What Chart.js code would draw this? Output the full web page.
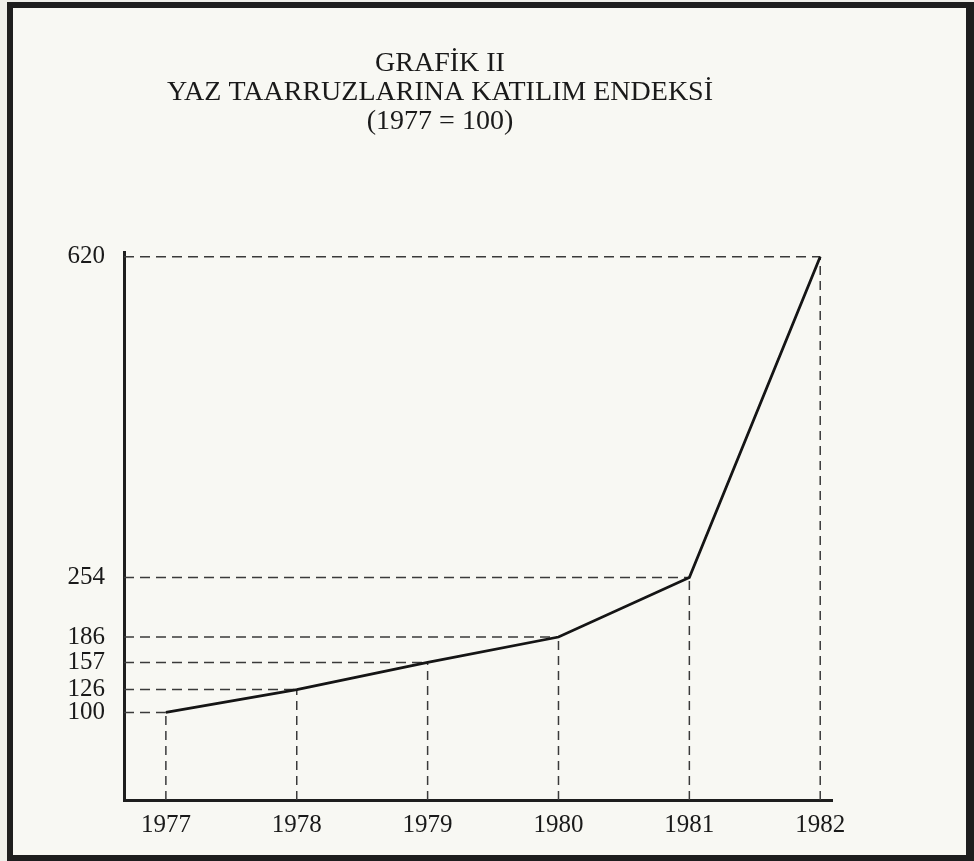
<!DOCTYPE html>
<html>
<head>
<meta charset="utf-8">
<script src="https://cdn.jsdelivr.net/npm/chart.js@4"></script>
<style>
  html, body { margin: 0; padding: 0; background: #efefea; }
  #frame {
    position: absolute; left: 7px; top: 2px; width: 953px; height: 847px;
    border: 6px solid #1e1e1e; border-right-width: 8px; background: #f8f8f3;
  }
  #wrap { position: absolute; left: 0; top: 0; width: 974px; height: 861px; }
</style>
</head>
<body>
<div id="frame"></div>
<div id="wrap"><canvas id="myChart" width="974" height="861"></canvas></div>
<script>
// data
const years = [1977, 1978, 1979, 1980, 1981, 1982];
const values = [100, 126, 157, 186, 254, 620];
const yTicks = [100, 126, 157, 186, 254, 620];
const titleLines = ['GRAFİK II', 'YAZ TAARRUZLARINA KATILIM ENDEKSİ', '(1977 = 100)'];

const xMin = 1976.68;
const xMax = 1982.09;
const serif = "'Liberation Serif', 'DejaVu Serif', serif";

// dashed guide lines: from y axis to point, and from point down to x axis
let guides = [];
years.forEach(function(yr, i){
  guides.push({
    data: [{x: xMin, y: values[i]}, {x: yr, y: values[i]}],
    borderColor: '#3a3a3a', borderWidth: 1.5, borderDash: [10, 6],
    pointRadius: 0, fill: false
  });
  guides.push({
    data: [{x: yr, y: 0}, {x: yr, y: values[i]}],
    borderColor: '#3a3a3a', borderWidth: 1.5, borderDash: [9, 6],
    pointRadius: 0, fill: false
  });
});

const ctx = document.getElementById('myChart');
new Chart(ctx, {
  type: 'line',
  data: {
    datasets: [{
      data: years.map(function(y, i){ return {x: y, y: values[i]}; }),
      borderColor: '#151515',
      borderWidth: 2.8,
      pointRadius: 0,
      tension: 0
    }].concat(guides)
  },
  options: {
    responsive: false,
    animation: false,
    layout: { padding: { left: 48, right: 142, top: 0, bottom: 14 } },
    plugins: {
      legend: { display: false },
      tooltip: { enabled: false },
      title: {
        display: true,
        text: titleLines,
        color: '#1a1a1a',
        font: { family: serif, size: 28, weight: 'normal', lineHeight: 1.04 },
        padding: { top: 49, bottom: 116 }
      }
    },
    scales: {
      x: {
        type: 'linear',
        min: xMin,
        max: xMax,
        afterBuildTicks: function(axis){ axis.ticks = years.map(function(v){ return {value: v}; }); },
        afterFit: function(axis){ axis.height = 47; },
        grid: { color: 'transparent', drawTicks: false },
        border: { display: true, color: '#1e1e1e', width: 3 },
        ticks: {
          color: '#1a1a1a', padding: 10, maxRotation: 0,
          font: { family: serif, size: 25 },
          callback: function(v){ return String(v); }
        }
      },
      y: {
        min: 0,
        max: 625,
        afterBuildTicks: function(axis){ axis.ticks = yTicks.map(function(v){ return {value: v}; }); },
        afterFit: function(axis){ axis.width = 76; },
        grid: { color: 'transparent', drawTicks: false },
        border: { display: true, color: '#1e1e1e', width: 3 },
        ticks: {
          color: '#1a1a1a', padding: 19,
          font: { family: serif, size: 25 }
        }
      }
    }
  }
});
</script>
</body>
</html>
